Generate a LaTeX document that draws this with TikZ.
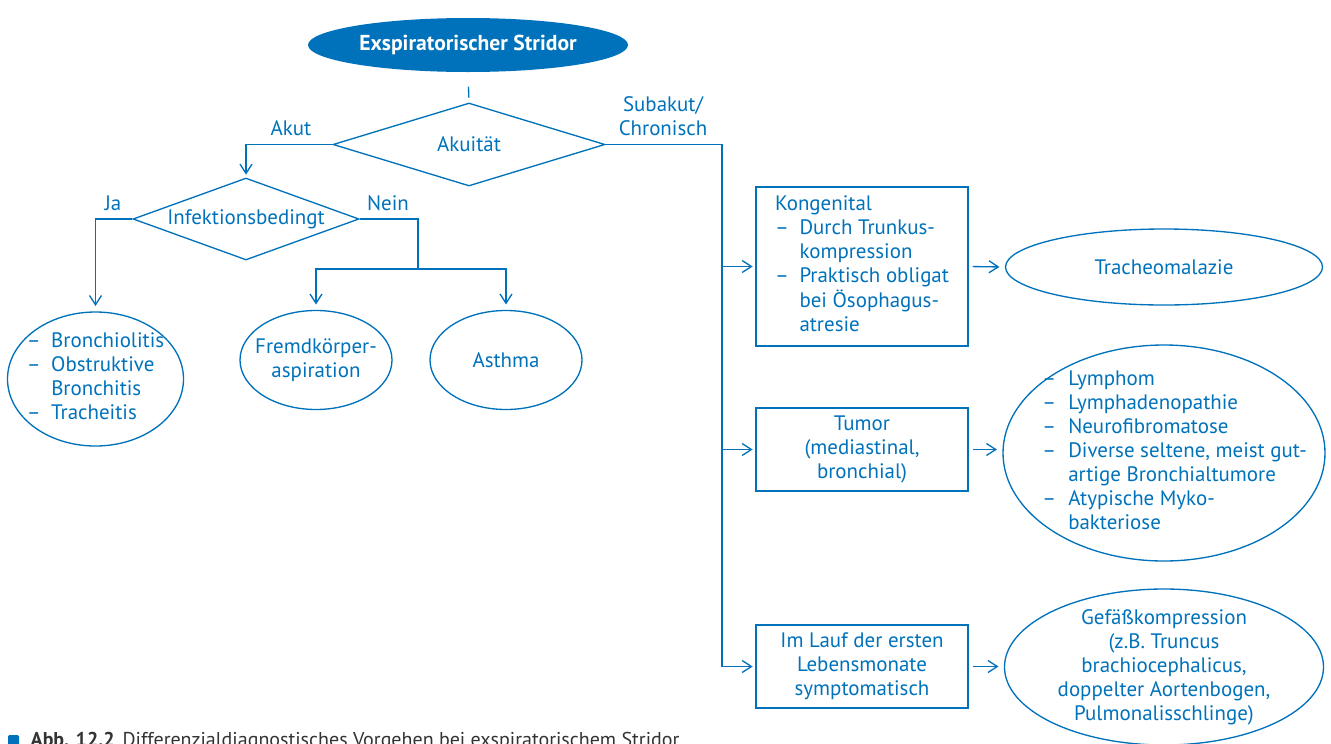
\documentclass[tikz,border=0pt]{standalone}
\usepackage{fontspec}
\setmainfont{PT Sans}
\usetikzlibrary{shapes.geometric,arrows.meta}
\definecolor{stridorblue}{RGB}{0,114,187}
\tikzset{every picture/.style={line width=1pt}}

\begin{document}
\begin{tikzpicture}[x=0.75pt,y=0.75pt,yscale=-1,xscale=1,
  font=\fontsize{15.7pt}{18pt}\selectfont, color=stridorblue,
  oval/.style={draw, ellipse, inner sep=-40pt, align=center},
  raute/.style={draw, diamond, inner sep=0pt, aspect=3, align=center},
  kasten/.style={draw, rectangle, minimum width=159pt, minimum height=62.25pt, inner sep=0pt, align=center},
  pfeil/.style={-{Straight Barb[length=7pt,width=9pt]}}]
\useasboundingbox (0,0) rectangle (1331,743);

%Shape: Ellipse
\node[ellipse, fill=stridorblue, text=white, font=\fontsize{16.2pt}{18pt}\selectfont\bfseries, minimum width=232.5pt, minimum height=40.5pt] (stridor) at (468,45) {Exspiratorischer Stridor};
%Shape: Diamond
\node[raute, minimum width=204pt, minimum height=62.25pt] (akuitaet) at (469,144.5) {Akuität};
\node[raute, minimum width=169.5pt, minimum height=61.5pt] (infekt) at (246,219) {Infektionsbedingt};

%Shape: Ellipse
\node[oval, minimum width=132pt, minimum height=100.5pt] (bronch) at (95.5,379) {\begin{tabular}{@{}l@{\hspace{8pt}}l@{}}–&Bronchiolitis\\ –&Obstruktive\\ &Bronchitis\\ –&Tracheitis\end{tabular}};
\node[oval, minimum width=114pt, minimum height=74.25pt] (fremd) at (316,360) {Fremdkörper-\\aspiration};
\node[oval, minimum width=114pt, minimum height=74.25pt] (asthma) at (506,360) {Asthma};

%Shape: Rectangle
\node[kasten, minimum height=119.25pt] (kongenital) at (862,266.5) {\begin{tabular}{@{}l@{\hspace{8pt}}l@{}}\multicolumn{2}{@{}l}{Kongenital}\\ –&Durch Trunkus-\\ &kompression\\ –&Praktisch obligat\\ &bei Ösophagus-\\ &atresie\end{tabular}};
\node[kasten] (tumor) at (862,449.5) {Tumor\\(mediastinal,\\bronchial)};
\node[kasten] (imlauf) at (862,666.5) {Im Lauf der ersten\\Lebensmonate\\symptomatisch};

%Shape: Ellipse
\node[oval, minimum width=237.75pt, minimum height=57pt] (trachea) at (1164,267) {Tracheomalazie};
\node[oval, minimum width=241.5pt, minimum height=162pt] (lymph) at (1164,453) {\hspace*{16pt}\begin{tabular}{@{}l@{\hspace{9pt}}l@{}}–&Lymphom\\ –&Lymphadenopathie\\ –&Neurofibromatose\\ –&Diverse seltene, meist gut-\\ &artige Bronchialtumore\\ –&Atypische Myko-\\ &bakteriose\end{tabular}};
\node[oval, minimum width=239.25pt, minimum height=117pt] (gefaess) at (1164,667) {Gefäßkompression\\(z.B. Truncus\\brachiocephalicus,\\doppelter Aortenbogen,\\Pulmonalisschlinge)};

%Straight Lines
\coordinate (stamm) at (722,666.5);
\coordinate (gabel) at (418,269);
\draw[shorten <=10.5pt, shorten >=3.5pt] (stridor.south) -- (akuitaet.north);
\draw[pfeil, shorten >=2pt] (akuitaet.west) -| (infekt.north);
\draw[pfeil, shorten >=2pt] (akuitaet.east) -| (stamm) -- (imlauf.west);
\draw[pfeil, shorten >=2pt] (stamm |- kongenital.west) -- (kongenital.west);
\draw[pfeil, shorten >=2pt] (stamm |- tumor.west) -- (tumor.west);
\draw[pfeil, shorten >=4pt] (infekt.west) -| (bronch.north);
\draw (infekt.east) -| (gabel);
\draw[pfeil, shorten >=4pt] (gabel) -| (fremd.north);
\draw[pfeil, shorten >=4pt] (gabel) -| (asthma.north);
\draw[pfeil, shorten <=3pt, shorten >=4pt] (kongenital.east) -- (trachea.west);
\draw[pfeil, shorten <=3pt, shorten >=4pt] (tumor.east) -- (tumor.east -| lymph.west);
\draw[pfeil, shorten <=3pt, shorten >=4pt] (imlauf.east) -- (imlauf.east -| gefaess.west);

% Text Node
\node (akut) at (291,128) {Akut};
\node[align=center] (subakut) at (663,116) {Subakut/\\Chronisch};
\node (ja) at (113,203) {Ja};
\node (nein) at (388,203) {Nein};

% Caption
\fill[stridorblue, rounded corners=1pt] (8,735) rectangle (19,749);
\node[anchor=base west, inner sep=0pt, text=black!80, font=\fontsize{15pt}{18pt}\selectfont] (caption) at (30,746) {\textbf{Abb. 12.2}\hspace{6pt}Differenzialdiagnostisches Vorgehen bei exspiratorischem Stridor};

\end{tikzpicture}
\end{document}
